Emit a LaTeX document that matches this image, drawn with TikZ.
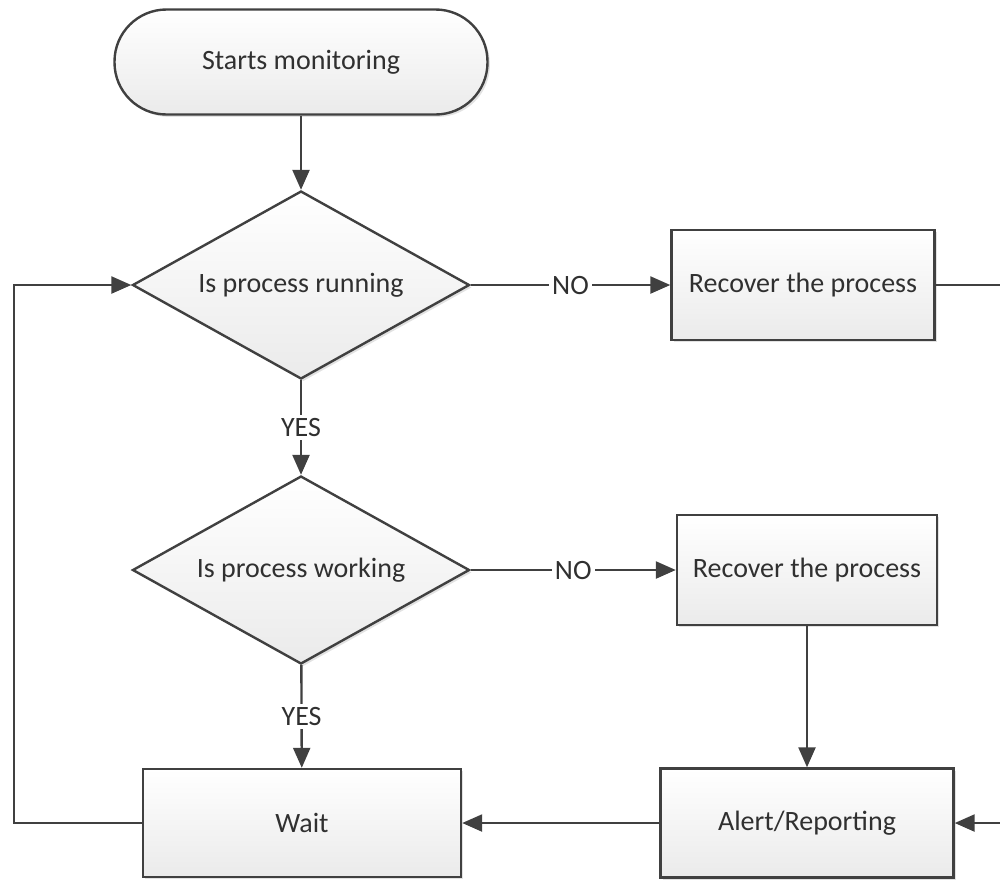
\documentclass[tikz,border=0pt]{standalone}
\usepackage{fontspec}
\setmainfont{Carlito}
\definecolor{edge}{HTML}{404040}
\definecolor{ink}{HTML}{303030}
\usepackage{tikz}
\usetikzlibrary{arrows.meta,shapes.geometric,shadows}

\begin{document}
\begin{tikzpicture}[x=0.5pt,y=-0.5pt,>={Triangle[length=10pt,width=8.5pt]},
  every node/.style={font=\fontsize{14}{16}\selectfont,text=ink},
  boxfill/.style={draw=edge,line width=1.2pt,top color=white,bottom color=black!8,
    drop shadow={shadow xshift=1.2pt,shadow yshift=-1.2pt,opacity=0.25,fill=black!45}},
  procbox/.style={boxfill,rectangle,inner sep=4pt},
  decision/.style={boxfill,diamond,aspect=1.8,inner sep=0pt,minimum width=168.5pt,minimum height=94pt},
  flow/.style={draw=edge,line width=1.2pt},
  tag/.style={midway,fill=white,inner sep=1.5pt}]
\useasboundingbox (0,0) rectangle (1000,880);
\node[boxfill,rectangle,rounded corners=26pt,minimum width=186.5pt,minimum height=52.5pt] (start) at (301,62) {Starts monitoring};
\node[decision] (running) at (301,285) {Is process running};
\node[procbox,minimum width=131.5pt,minimum height=55pt] (recoverA) at (803,285) {Recover the process};
\node[decision] (working) at (301,570) {Is process working};
\node[procbox,minimum width=130pt,minimum height=55pt] (recoverB) at (807,570) {Recover the process};
\node[procbox,minimum width=146.5pt,minimum height=54.5pt] (alert) at (807,823) {Alert/Reporting};
\node[procbox,minimum width=159pt,minimum height=54pt] (wait) at (302,823) {Wait};
\coordinate (outA) at (1000,285);
\coordinate (outB) at (1000,823);
\draw[flow,->] (start) -- (running);
\draw[flow,->] (running) -- node[tag]{NO} (recoverA);
\draw[flow,->] (running) -- node[tag]{YES} (working);
\draw[flow,->] (working) -- node[tag]{NO} (recoverB);
\draw[flow,->] (working) -- node[tag]{YES} (wait);
\draw[flow,->] (recoverB) -- (alert);
\draw[flow,->] (alert) -- (wait);
\draw[flow,->] (wait.west) -- ++(-128,0) |- (running.west);
\draw[flow] (recoverA) -- (outA);
\draw[flow,->] (outB) -- (alert);
\end{tikzpicture}
\end{document}
